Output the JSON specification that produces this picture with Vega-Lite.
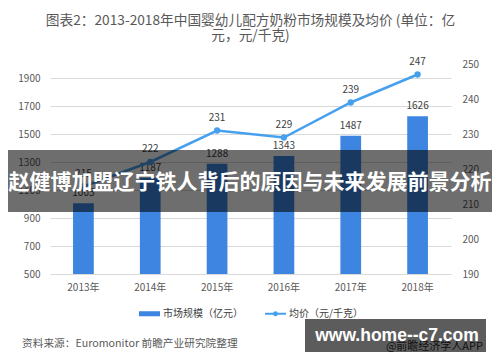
{
  "$schema": "https://vega.github.io/schema/vega-lite/v6.json",
  "width": 401,
  "height": 210,
  "autosize": "none",
  "padding": {"left": 50, "top": 64, "right": 49, "bottom": 88},
  "background": "white",
  "config": {"view": {"stroke": null}, "font": "Noto Sans CJK SC"},
  "title": {
    "text": ["图表2：2013-2018年中国婴幼儿配方奶粉市场规模及均价 (单位：亿", "元，元/千克)"],
    "fontSize": 13.7,
    "fontWeight": "normal",
    "color": "#595959",
    "lineHeight": 15,
    "anchor": "middle",
    "frame": "group",
    "offset": 14
  },
  "data": {
    "values": [
      {"year": "2013", "size": 1005, "price": 215},
      {"year": "2014", "size": 1187, "price": 222},
      {"year": "2015", "size": 1288, "price": 231},
      {"year": "2016", "size": 1343, "price": 229},
      {"year": "2017", "size": 1487, "price": 239},
      {"year": "2018", "size": 1626, "price": 247}
    ]
  },
  "encoding": {
    "x": {
      "field": "year",
      "type": "ordinal",
      "scale": {"paddingInner": 0.69, "paddingOuter": 0.345},
      "axis": {
        "title": null,
        "labelAngle": 0,
        "labelExpr": "datum.label + '年'",
        "labelFontSize": 10,
        "labelColor": "#595959",
        "labelPadding": 8,
        "ticks": false,
        "domain": false
      }
    }
  },
  "layer": [
    {
      "encoding": {
        "y": {
          "field": "size",
          "type": "quantitative",
          "scale": {"domain": [500, 2000], "nice": false, "zero": false},
          "axis": {
            "title": null,
            "format": "d",
            "values": [500, 700, 900, 1100, 1300, 1500, 1700, 1900],
            "labelFontSize": 10,
            "labelColor": "#595959",
            "labelPadding": 10,
            "ticks": false,
            "domain": false,
            "gridColor": "#d9d9d9",
            "gridWidth": 1
          }
        }
      },
      "layer": [
        {
          "mark": {"type": "bar"},
          "encoding": {
            "y2": {"datum": 500},
            "color": {
              "datum": "市场规模（亿元）",
              "type": "nominal",
              "scale": {"domain": ["市场规模（亿元）", "均价（元/千克）"], "range": ["#3d85e0", "#47a0ee"]},
              "legend": {
                "title": null,
                "orient": "none",
                "direction": "horizontal",
                "legendX": 89,
                "legendY": 239,
                "symbolSize": 441,
                "labelFontSize": 10,
                "labelColor": "#404040",
                "labelOffset": 3,
                "columnPadding": 22,
                "symbolStrokeWidth": 0,
                "encode": {
                  "symbols": {
                    "update": {
                      "shape": {"signal": "datum.value === '市场规模（亿元）' ? 'M-1,-0.24H1V0.24H-1Z' : 'M-1,-0.09H1V0.09H-1Z M0.24,0A0.24,0.24,0,1,1,-0.24,0A0.24,0.24,0,1,1,0.24,0Z'"},
                      "fill": {"signal": "datum.value === '市场规模（亿元）' ? '#3d85e0' : '#47a0ee'"},
                      "strokeWidth": {"value": 0},
                      "opacity": {"value": 1}
                    }
                  }
                }
              }
            }
          }
        },
        {
          "mark": {"type": "text", "dy": -10, "fontSize": 10, "color": "#404040"},
          "encoding": {"text": {"field": "size", "type": "quantitative", "format": "d"}}
        }
      ]
    },
    {
      "encoding": {
        "y": {
          "field": "price",
          "type": "quantitative",
          "scale": {"domain": [190, 250], "nice": false, "zero": false},
          "axis": {
            "title": null,
            "orient": "right",
            "values": [190, 200, 210, 220, 230, 240, 250],
            "labelFontSize": 10,
            "labelColor": "#595959",
            "labelPadding": 11,
            "ticks": false,
            "domain": false,
            "grid": false
          }
        }
      },
      "layer": [
        {
          "mark": {"type": "line", "strokeWidth": 2.5, "point": {"size": 40, "filled": true}},
          "encoding": {"color": {"datum": "均价（元/千克）", "type": "nominal"}}
        },
        {
          "mark": {"type": "text", "dy": -13, "fontSize": 10, "color": "#404040"},
          "encoding": {"text": {"field": "price", "type": "quantitative"}}
        }
      ]
    },
    {
      "data": {"values": [{"t": "赵健博加盟辽宁铁人背后的原因与未来发展前景分析"}]},
      "layer": [
        {
          "mark": {"type": "rect", "color": "black", "opacity": 0.57},
          "encoding": {
            "x": {"value": -42},
            "x2": {"value": 442},
            "y": {"value": 86},
            "y2": {"value": 148}
          }
        },
        {
          "mark": {"type": "text", "color": "white", "fontSize": 21, "fontWeight": "bold", "align": "center", "baseline": "middle"},
          "encoding": {
            "x": {"value": 200},
            "y": {"value": 119},
            "text": {"field": "t"}
          }
        }
      ]
    },
    {
      "data": {"values": [{"src": "资料来源：Euromonitor 前瞻产业研究院整理", "app": "@前瞻经济学人APP", "url": "www.home--c7.com"}]},
      "layer": [
        {
          "mark": {"type": "text", "color": "#595959", "fontSize": 10.7, "align": "left", "baseline": "middle"},
          "encoding": {"x": {"value": -28}, "y": {"value": 280}, "text": {"field": "src"}}
        },
        {
          "mark": {"type": "text", "color": "#333333", "fontSize": 11, "align": "right", "baseline": "middle"},
          "encoding": {"x": {"value": 433}, "y": {"value": 283}, "text": {"field": "app"}}
        },
        {
          "mark": {"type": "rect", "color": "black", "opacity": 0.64},
          "encoding": {"x": {"value": 255}, "x2": {"value": 436}, "y": {"value": 255}, "y2": {"value": 288}}
        },
        {
          "mark": {"type": "text", "color": "white", "fontSize": 17.5, "fontWeight": "bold", "font": "Liberation Sans", "align": "center", "baseline": "middle"},
          "encoding": {"x": {"value": 347}, "y": {"value": 272}, "text": {"field": "url"}}
        }
      ]
    }
  ],
  "resolve": {"scale": {"y": "independent"}}
}
